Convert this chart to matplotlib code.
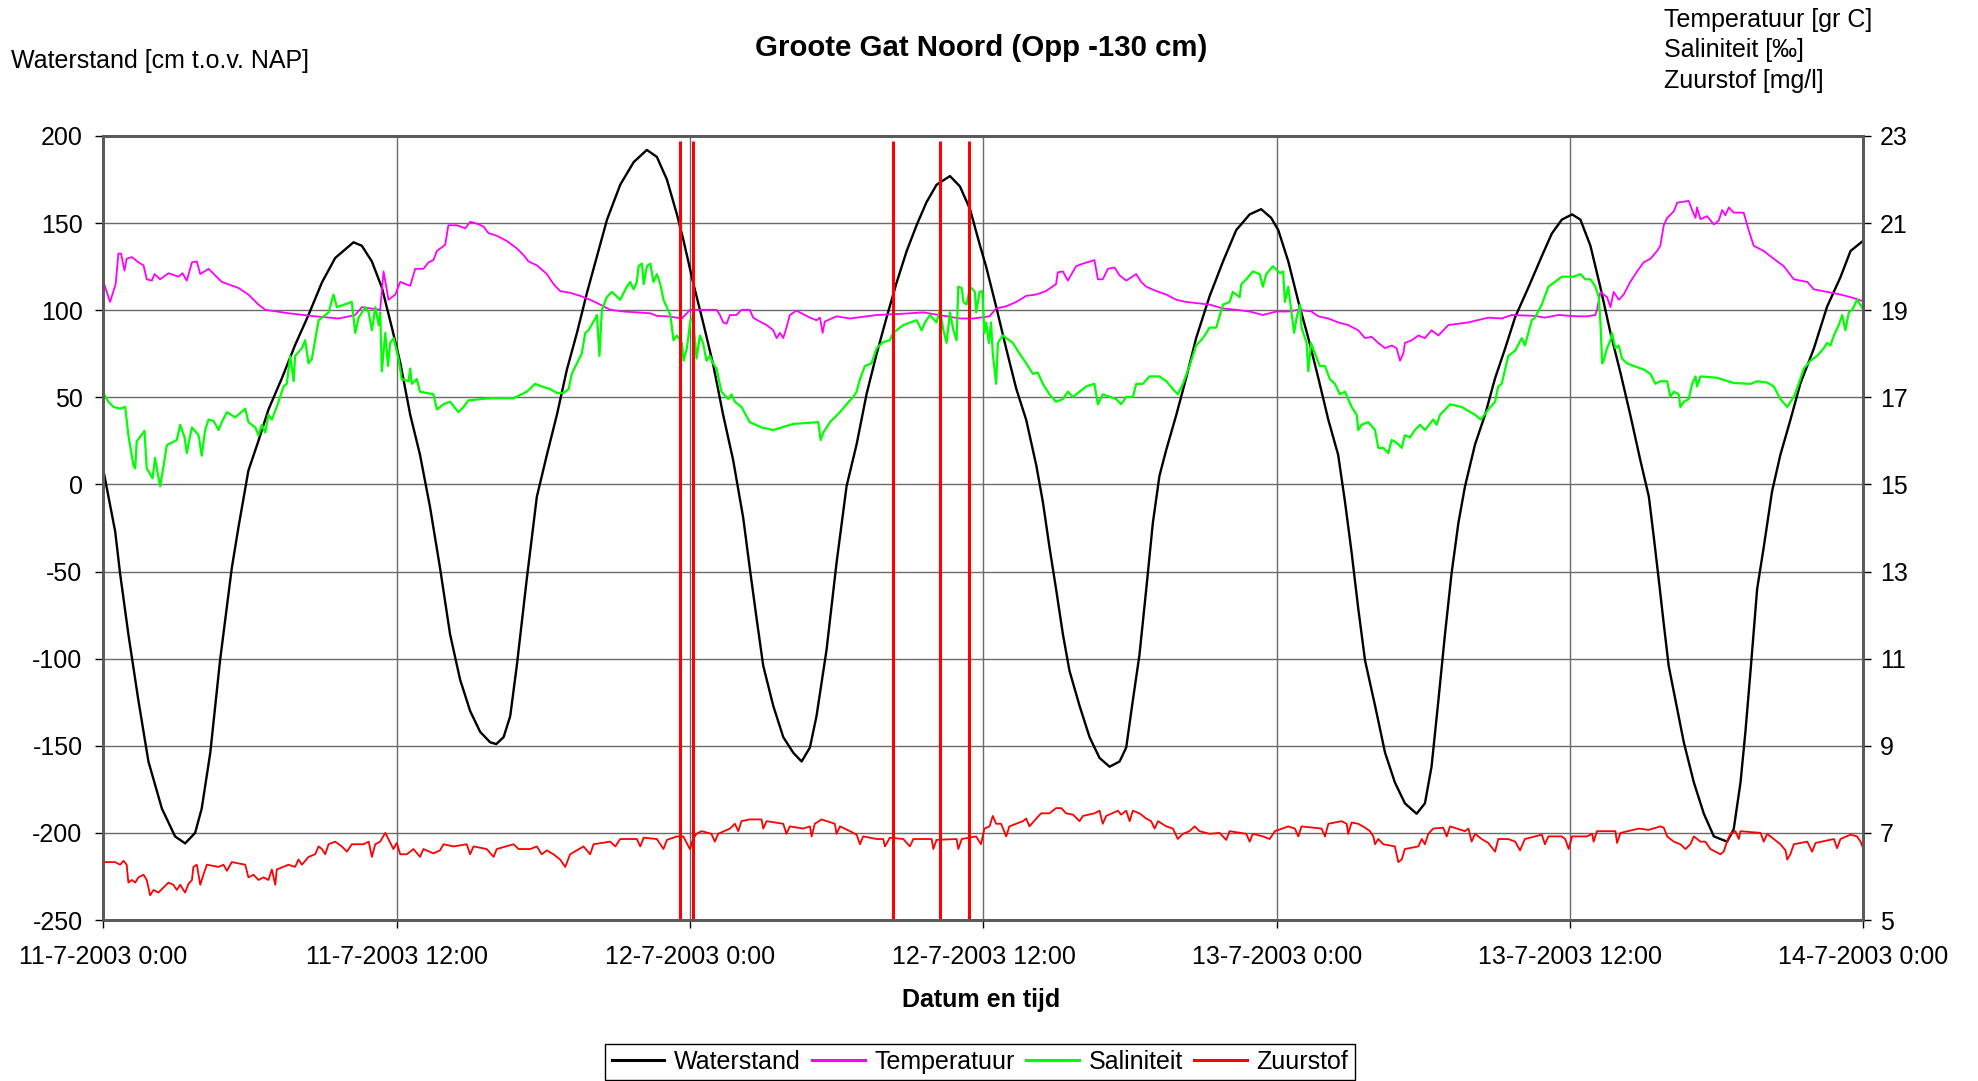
import numpy as np
import matplotlib
matplotlib.use("Agg")
import matplotlib.pyplot as plt

plt.rcParams['font.family'] = ['Liberation Sans', 'DejaVu Sans']
plt.rcParams['axes.unicode_minus'] = False

# (hours since 11-7-2003 0:00, value)
waterstand = [
    (0.0, 8), (0.48, -27), (0.68, -51), (1.02, -86), (1.43, -124), (1.84, -159),
    (2.39, -186), (2.93, -202), (3.34, -206), (3.75, -200), (4.02, -186), (4.37, -154),
    (4.77, -101), (5.25, -48), (5.53, -24), (5.93, 8), (6.34, 25), (6.75, 43),
    (7.30, 61), (7.84, 80), (8.38, 97), (8.94, 116), (9.48, 130), (10.23, 139),
    (10.57, 137), (10.98, 128), (11.39, 113), (11.80, 90), (12.14, 70), (12.55, 40),
    (12.95, 17), (13.36, -13), (13.77, -48), (14.18, -86), (14.59, -112), (15.00, -130),
    (15.41, -142), (15.82, -148), (16.07, -149), (16.37, -145), (16.64, -133), (16.91, -104),
    (17.32, -54), (17.73, -7), (18.14, 17), (18.55, 40), (18.96, 66), (19.37, 87),
    (19.78, 110), (20.19, 131), (20.60, 152), (21.14, 172), (21.69, 185), (22.23, 192),
    (22.64, 188), (23.05, 175), (23.46, 155), (23.73, 140), (24.12, 116), (24.53, 93),
    (24.94, 69), (25.35, 40), (25.76, 14), (26.17, -19), (26.44, -48), (26.72, -77),
    (26.99, -104), (27.40, -127), (27.81, -145), (28.22, -154), (28.56, -159), (28.90, -151),
    (29.17, -133), (29.58, -95), (29.99, -45), (30.40, -1), (30.81, 23), (31.22, 52),
    (31.63, 75), (32.04, 96), (32.45, 116), (32.86, 134), (33.27, 149), (33.67, 162),
    (34.08, 172), (34.63, 177), (35.04, 171), (35.45, 158), (35.86, 137), (36.11, 125),
    (36.52, 102), (36.93, 78), (37.34, 55), (37.75, 37), (38.16, 11), (38.43, -10),
    (38.70, -36), (38.97, -60), (39.25, -86), (39.52, -107), (39.93, -127), (40.34, -145),
    (40.75, -157), (41.16, -162), (41.57, -159), (41.84, -151), (42.11, -124), (42.38, -98),
    (42.66, -60), (42.93, -22), (43.20, 5), (43.48, 20), (43.89, 40), (44.29, 61),
    (44.70, 84), (45.25, 108), (45.80, 128), (46.34, 146), (46.89, 155), (47.36, 158),
    (47.77, 153), (48.06, 146), (48.47, 128), (48.88, 105), (49.29, 84), (49.70, 61),
    (50.11, 37), (50.51, 17), (50.79, -10), (51.06, -39), (51.33, -71), (51.61, -101),
    (52.02, -127), (52.43, -154), (52.83, -171), (53.24, -183), (53.72, -189), (54.06, -183),
    (54.33, -162), (54.61, -124), (54.88, -86), (55.15, -51), (55.43, -22), (55.70, -1),
    (56.11, 23), (56.52, 40), (56.93, 61), (57.34, 78), (57.75, 96), (58.29, 113),
    (58.84, 131), (59.25, 144), (59.66, 152), (60.08, 155), (60.42, 152), (60.83, 137),
    (61.24, 113), (61.65, 87), (62.06, 64), (62.46, 40), (62.87, 14), (63.22, -7),
    (63.42, -30), (63.62, -54), (63.83, -80), (64.03, -104), (64.31, -124), (64.65, -148),
    (65.06, -171), (65.47, -189), (65.88, -202), (66.42, -205), (66.69, -198), (66.97, -171),
    (67.17, -142), (67.38, -107), (67.65, -60), (67.92, -36), (68.26, -4), (68.60, 17),
    (69.01, 37), (69.42, 58), (69.97, 78), (70.51, 102), (71.06, 119), (71.47, 134),
    (72.0, 140),
]

temperatuur = [
    (0.0, 19.65), (0.27, 19.19), (0.50, 19.60), (0.61, 20.30), (0.72, 20.30), (0.86, 19.91),
    (0.95, 20.18), (1.16, 20.22), (1.43, 20.10), (1.64, 20.03), (1.77, 19.71), (1.98, 19.68),
    (2.09, 19.83), (2.32, 19.71), (2.66, 19.85), (3.07, 19.77), (3.23, 19.85), (3.41, 19.68),
    (3.62, 20.10), (3.82, 20.12), (3.96, 19.83), (4.30, 19.95), (4.84, 19.65), (5.53, 19.51),
    (5.93, 19.36), (6.34, 19.13), (6.62, 19.01), (7.57, 18.93), (8.66, 18.86), (9.62, 18.81),
    (10.30, 18.89), (10.57, 19.07), (11.32, 19.01), (11.46, 19.89), (11.66, 19.24), (11.94, 19.36),
    (12.14, 19.65), (12.55, 19.56), (12.75, 19.95), (13.09, 19.95), (13.30, 20.10), (13.50, 20.15),
    (13.64, 20.36), (13.98, 20.50), (14.11, 20.95), (14.46, 20.95), (14.80, 20.88), (15.00, 21.03),
    (15.27, 20.99), (15.55, 20.92), (15.75, 20.77), (16.09, 20.71), (16.50, 20.59), (16.91, 20.42),
    (17.18, 20.27), (17.39, 20.12), (17.73, 20.03), (18.14, 19.83), (18.41, 19.60), (18.68, 19.44),
    (19.09, 19.40), (19.50, 19.33), (19.91, 19.24), (20.32, 19.13), (20.73, 19.01), (21.28, 18.97),
    (21.82, 18.95), (22.37, 18.93), (22.64, 18.87), (23.05, 18.86), (23.46, 18.83), (23.66, 18.81),
    (23.87, 18.93), (23.99, 19.01), (24.53, 19.01), (25.08, 19.01), (25.22, 18.89), (25.35, 18.72),
    (25.49, 18.69), (25.63, 18.89), (25.90, 18.89), (26.10, 19.01), (26.44, 19.01), (26.58, 18.83),
    (26.85, 18.74), (27.13, 18.66), (27.40, 18.54), (27.54, 18.36), (27.67, 18.48), (27.81, 18.36),
    (27.94, 18.60), (28.08, 18.89), (28.35, 18.99), (28.90, 18.83), (29.17, 18.77), (29.31, 18.83),
    (29.42, 18.48), (29.51, 18.74), (29.99, 18.86), (30.54, 18.81), (31.63, 18.89), (32.72, 18.92),
    (33.54, 18.95), (34.49, 18.86), (35.04, 18.81), (35.58, 18.81), (36.25, 18.86), (36.52, 19.04),
    (36.93, 19.09), (37.34, 19.19), (37.75, 19.33), (38.16, 19.36), (38.56, 19.44), (38.97, 19.60),
    (39.04, 19.87), (39.25, 19.89), (39.45, 19.68), (39.79, 20.01), (40.07, 20.07), (40.54, 20.15),
    (40.68, 19.71), (40.88, 19.71), (41.09, 19.95), (41.36, 19.98), (41.57, 19.80), (41.84, 19.68),
    (42.25, 19.83), (42.45, 19.65), (42.66, 19.54), (43.07, 19.44), (43.48, 19.36), (43.89, 19.24),
    (44.29, 19.19), (45.25, 19.13), (45.80, 19.04), (46.34, 19.01), (46.89, 18.97), (47.43, 18.89),
    (47.98, 18.97), (48.47, 18.97), (48.88, 19.01), (49.42, 18.97), (49.70, 18.86), (50.11, 18.81),
    (50.51, 18.72), (50.92, 18.66), (51.33, 18.54), (51.61, 18.36), (51.88, 18.39), (52.15, 18.25),
    (52.43, 18.13), (52.70, 18.19), (52.90, 18.13), (53.04, 17.84), (53.18, 18.01), (53.24, 18.25),
    (53.52, 18.31), (53.79, 18.42), (54.06, 18.36), (54.33, 18.54), (54.61, 18.42), (55.02, 18.66),
    (55.84, 18.72), (56.65, 18.83), (57.20, 18.81), (57.61, 18.89), (58.56, 18.87), (58.97, 18.83),
    (59.52, 18.89), (60.28, 18.86), (60.69, 18.86), (61.03, 18.89), (61.10, 19.01), (61.24, 19.42),
    (61.37, 19.36), (61.51, 19.30), (61.65, 19.07), (61.78, 19.42), (61.99, 19.24), (62.19, 19.36),
    (62.46, 19.65), (62.74, 19.89), (63.01, 20.10), (63.28, 20.18), (63.56, 20.36), (63.69, 20.48),
    (63.83, 20.95), (63.97, 21.12), (64.24, 21.27), (64.38, 21.47), (64.85, 21.51), (64.99, 21.30),
    (65.13, 21.12), (65.19, 21.36), (65.33, 21.09), (65.60, 21.16), (65.88, 20.97), (66.08, 21.06),
    (66.22, 21.30), (66.35, 21.18), (66.49, 21.36), (66.69, 21.24), (67.10, 21.24), (67.31, 20.83),
    (67.51, 20.48), (67.92, 20.36), (68.33, 20.18), (68.74, 20.01), (69.15, 19.71), (69.70, 19.65),
    (69.97, 19.48), (70.51, 19.42), (71.06, 19.36), (71.47, 19.30), (71.81, 19.24), (72.0, 19.20),
]

saliniteit = [
    (0.0, 17.10), (0.20, 16.90), (0.41, 16.78), (0.68, 16.74), (0.89, 16.78), (1.02, 16.13),
    (1.23, 15.43), (1.30, 15.37), (1.36, 15.99), (1.68, 16.23), (1.77, 15.37), (2.01, 15.14),
    (2.11, 15.61), (2.22, 15.25), (2.32, 14.96), (2.46, 15.43), (2.59, 15.90), (3.00, 16.02),
    (3.14, 16.37), (3.32, 16.08), (3.41, 15.72), (3.51, 16.02), (3.62, 16.31), (3.89, 16.13),
    (4.02, 15.66), (4.16, 16.25), (4.30, 16.49), (4.50, 16.46), (4.71, 16.25), (4.84, 16.43),
    (5.05, 16.66), (5.39, 16.54), (5.80, 16.74), (5.93, 16.43), (6.21, 16.31), (6.34, 16.13),
    (6.48, 16.37), (6.62, 16.19), (6.75, 16.60), (6.89, 16.49), (7.09, 16.78), (7.37, 17.25),
    (7.50, 17.31), (7.64, 17.95), (7.78, 17.37), (7.84, 17.95), (8.12, 18.13), (8.25, 18.31),
    (8.39, 17.78), (8.53, 17.89), (8.66, 18.31), (8.80, 18.77), (9.21, 18.95), (9.41, 19.36),
    (9.55, 19.07), (10.16, 19.19), (10.30, 18.48), (10.44, 18.83), (10.71, 19.07), (10.85, 18.95),
    (10.98, 18.54), (11.12, 19.07), (11.26, 18.66), (11.32, 18.95), (11.39, 17.60), (11.53, 18.48),
    (11.64, 17.72), (11.73, 18.25), (11.87, 18.36), (12.07, 17.89), (12.20, 17.42), (12.48, 17.37),
    (12.55, 17.66), (12.61, 17.31), (12.82, 17.42), (12.95, 17.13), (13.50, 17.07), (13.64, 16.72),
    (13.91, 16.84), (14.18, 16.90), (14.52, 16.66), (14.73, 16.78), (14.93, 16.93), (15.82, 16.98),
    (16.78, 16.98), (17.32, 17.13), (17.66, 17.31), (17.93, 17.25), (18.28, 17.19), (18.55, 17.10),
    (18.82, 17.10), (19.03, 17.19), (19.16, 17.54), (19.37, 17.78), (19.57, 18.01), (19.71, 18.48),
    (19.84, 18.54), (20.08, 18.77), (20.19, 18.89), (20.29, 17.95), (20.39, 19.01), (20.59, 19.30),
    (20.80, 19.42), (21.14, 19.24), (21.41, 19.54), (21.55, 19.65), (21.69, 19.48), (21.82, 19.65),
    (21.89, 20.01), (22.03, 20.07), (22.10, 19.60), (22.23, 20.01), (22.37, 20.07), (22.50, 19.65),
    (22.64, 19.83), (22.78, 19.60), (22.91, 19.24), (23.19, 18.89), (23.32, 18.31), (23.46, 18.42),
    (23.66, 18.25), (23.73, 17.84), (23.87, 18.13), (24.01, 18.77), (24.12, 18.83), (24.26, 17.89),
    (24.40, 18.42), (24.53, 18.25), (24.67, 17.84), (24.81, 17.95), (24.94, 17.78), (25.08, 17.66),
    (25.28, 17.13), (25.56, 16.96), (25.69, 17.07), (25.83, 16.90), (26.10, 16.78), (26.44, 16.43),
    (26.92, 16.31), (27.40, 16.25), (28.22, 16.39), (29.24, 16.43), (29.34, 16.02), (29.45, 16.19),
    (29.72, 16.43), (30.13, 16.66), (30.40, 16.84), (30.67, 17.01), (30.81, 17.13), (30.95, 17.42),
    (31.15, 17.72), (31.42, 17.78), (31.63, 18.13), (31.90, 18.27), (32.17, 18.31), (32.31, 18.48),
    (32.72, 18.66), (33.27, 18.77), (33.47, 18.54), (33.61, 18.72), (33.81, 18.89), (34.08, 18.72),
    (34.22, 19.01), (34.36, 18.54), (34.49, 18.25), (34.63, 18.95), (34.77, 18.54), (34.90, 18.31),
    (34.97, 19.54), (35.11, 19.51), (35.18, 19.19), (35.31, 19.13), (35.45, 19.54), (35.65, 19.42),
    (35.70, 18.95), (35.84, 19.42), (35.95, 19.44), (36.04, 18.48), (36.11, 18.72), (36.22, 18.25),
    (36.31, 18.72), (36.38, 18.01), (36.52, 17.31), (36.59, 18.25), (36.79, 18.42), (37.20, 18.25),
    (37.47, 18.01), (37.75, 17.78), (38.02, 17.54), (38.22, 17.57), (38.43, 17.31), (38.70, 17.07),
    (38.97, 16.90), (39.25, 16.96), (39.45, 17.13), (39.66, 17.01), (39.93, 17.13), (40.20, 17.25),
    (40.54, 17.31), (40.68, 16.84), (40.88, 17.07), (41.43, 16.96), (41.63, 16.84), (41.84, 17.01),
    (42.11, 17.01), (42.25, 17.31), (42.52, 17.31), (42.79, 17.48), (43.20, 17.48), (43.48, 17.37),
    (43.75, 17.19), (43.95, 17.07), (44.16, 17.31), (44.43, 17.72), (44.70, 18.19), (44.98, 18.36),
    (45.25, 18.60), (45.52, 18.60), (45.80, 19.13), (46.07, 19.19), (46.20, 19.42), (46.48, 19.30),
    (46.55, 19.60), (46.75, 19.71), (47.02, 19.89), (47.30, 19.83), (47.43, 19.54), (47.57, 19.83),
    (47.84, 20.01), (48.13, 19.85), (48.26, 19.89), (48.33, 19.19), (48.47, 19.54), (48.60, 18.95),
    (48.71, 18.48), (48.81, 18.83), (48.95, 19.13), (49.01, 18.60), (49.22, 18.25), (49.29, 17.60),
    (49.40, 18.25), (49.56, 18.01), (49.76, 17.72), (49.97, 17.72), (50.17, 17.42), (50.38, 17.31),
    (50.58, 17.07), (50.79, 17.13), (51.06, 16.78), (51.27, 16.60), (51.33, 16.25), (51.47, 16.37),
    (51.74, 16.43), (52.02, 16.25), (52.15, 15.84), (52.36, 15.84), (52.56, 15.72), (52.70, 16.02),
    (52.90, 15.96), (53.11, 15.84), (53.24, 16.13), (53.45, 16.08), (53.65, 16.25), (53.86, 16.37),
    (54.06, 16.25), (54.40, 16.49), (54.54, 16.37), (54.68, 16.60), (55.09, 16.84), (55.56, 16.78),
    (56.11, 16.60), (56.35, 16.49), (56.65, 16.72), (56.93, 16.90), (57.06, 17.25), (57.20, 17.31),
    (57.47, 17.95), (57.75, 18.07), (58.02, 18.36), (58.15, 18.19), (58.29, 18.48), (58.43, 18.77),
    (58.56, 18.83), (58.84, 19.13), (59.11, 19.54), (59.38, 19.65), (59.66, 19.77), (60.15, 19.77),
    (60.42, 19.83), (60.62, 19.71), (60.83, 19.71), (61.03, 19.54), (61.17, 19.30), (61.24, 18.72),
    (61.31, 17.78), (61.37, 17.84), (61.51, 18.13), (61.65, 18.31), (61.71, 18.48), (61.85, 18.13),
    (61.99, 18.19), (62.12, 17.89), (62.33, 17.78), (62.60, 17.72), (63.01, 17.64), (63.28, 17.54),
    (63.49, 17.31), (63.69, 17.37), (63.97, 17.37), (64.10, 17.01), (64.24, 17.13), (64.44, 17.07),
    (64.51, 16.78), (64.65, 16.90), (64.85, 16.96), (64.99, 17.31), (65.13, 17.48), (65.19, 17.25),
    (65.33, 17.48), (66.01, 17.45), (66.69, 17.33), (67.38, 17.31), (67.65, 17.37), (68.06, 17.34),
    (68.33, 17.25), (68.60, 16.96), (68.88, 16.78), (69.15, 17.01), (69.35, 17.31), (69.56, 17.66),
    (69.83, 17.84), (70.10, 17.95), (70.38, 18.13), (70.51, 18.25), (70.65, 18.19), (70.79, 18.42),
    (70.99, 18.66), (71.13, 18.89), (71.26, 18.54), (71.40, 18.95), (71.54, 19.01), (71.74, 19.24),
    (72.0, 19.01),
]

zuurstof = [
    (0.0, 6.33), (0.48, 6.33), (0.68, 6.27), (0.82, 6.36), (0.95, 6.27), (1.02, 5.86),
    (1.16, 5.92), (1.30, 5.86), (1.43, 5.98), (1.64, 6.04), (1.77, 5.92), (1.91, 5.57),
    (2.05, 5.69), (2.25, 5.63), (2.46, 5.75), (2.66, 5.86), (2.86, 5.81), (3.00, 5.69),
    (3.14, 5.81), (3.34, 5.63), (3.48, 5.83), (3.62, 5.92), (3.68, 6.22), (3.82, 6.27),
    (3.96, 5.81), (4.09, 6.04), (4.23, 6.27), (4.71, 6.22), (4.91, 6.27), (5.05, 6.13),
    (5.25, 6.33), (5.80, 6.27), (5.93, 5.98), (6.14, 6.04), (6.34, 5.92), (6.55, 5.98),
    (6.75, 5.92), (6.89, 6.16), (7.03, 5.81), (7.09, 6.16), (7.57, 6.27), (7.84, 6.22),
    (7.98, 6.39), (8.12, 6.27), (8.39, 6.45), (8.66, 6.51), (8.80, 6.69), (8.94, 6.63),
    (9.07, 6.51), (9.21, 6.74), (9.48, 6.80), (9.75, 6.69), (9.96, 6.57), (10.16, 6.74),
    (10.64, 6.74), (10.85, 6.80), (10.98, 6.45), (11.12, 6.74), (11.32, 6.80), (11.53, 7.00),
    (11.66, 6.86), (11.86, 6.63), (12.00, 6.77), (12.14, 6.51), (12.41, 6.51), (12.68, 6.63),
    (12.95, 6.45), (13.09, 6.63), (13.50, 6.53), (13.77, 6.60), (13.91, 6.74), (14.32, 6.69),
    (14.86, 6.74), (15.00, 6.51), (15.14, 6.69), (15.68, 6.63), (15.96, 6.45), (16.09, 6.63),
    (16.78, 6.74), (16.98, 6.63), (17.46, 6.63), (17.73, 6.69), (17.93, 6.51), (18.14, 6.60),
    (18.41, 6.51), (18.68, 6.39), (18.89, 6.22), (19.09, 6.51), (19.64, 6.69), (19.91, 6.51),
    (20.05, 6.74), (20.73, 6.80), (20.94, 6.69), (21.14, 6.86), (21.82, 6.86), (21.96, 6.69),
    (22.10, 6.89), (22.64, 6.86), (22.91, 6.63), (23.05, 6.84), (23.46, 6.92), (23.72, 6.92),
    (23.99, 6.63), (24.12, 6.86), (24.26, 6.98), (24.47, 7.04), (24.87, 6.98), (25.01, 6.80),
    (25.15, 6.98), (25.63, 7.10), (25.83, 7.21), (25.97, 7.04), (26.10, 7.27), (26.44, 7.31),
    (26.92, 7.31), (26.99, 7.10), (27.13, 7.27), (27.81, 7.21), (27.94, 6.98), (28.08, 7.15),
    (28.63, 7.10), (28.90, 7.15), (28.97, 6.92), (29.10, 7.21), (29.38, 7.31), (29.92, 7.21),
    (29.99, 6.98), (30.13, 7.15), (30.54, 7.04), (30.81, 6.96), (30.95, 6.74), (31.08, 6.92),
    (31.63, 6.86), (31.90, 6.86), (31.97, 6.69), (32.17, 6.89), (32.72, 6.86), (32.99, 6.69),
    (33.13, 6.86), (33.88, 6.86), (33.95, 6.63), (34.08, 6.84), (34.90, 6.86), (34.97, 6.63),
    (35.11, 6.86), (35.70, 6.92), (35.90, 6.74), (36.04, 7.10), (36.25, 7.15), (36.38, 7.39),
    (36.52, 7.21), (36.72, 7.21), (36.93, 6.92), (37.06, 7.15), (37.61, 7.27), (37.75, 7.33),
    (37.88, 7.15), (38.16, 7.33), (38.36, 7.45), (38.70, 7.45), (38.97, 7.57), (39.18, 7.57),
    (39.38, 7.45), (39.66, 7.42), (39.93, 7.27), (40.07, 7.39), (40.54, 7.45), (40.75, 7.51),
    (40.88, 7.21), (41.02, 7.39), (41.50, 7.51), (41.63, 7.42), (41.84, 7.51), (41.98, 7.27),
    (42.11, 7.51), (42.38, 7.45), (42.66, 7.33), (42.86, 7.27), (43.00, 7.10), (43.14, 7.27),
    (43.48, 7.15), (43.75, 7.10), (43.95, 6.86), (44.16, 6.98), (44.43, 7.04), (44.64, 7.15),
    (44.84, 7.04), (45.25, 6.98), (45.66, 7.00), (45.93, 6.84), (46.07, 7.04), (46.75, 6.98),
    (46.89, 6.80), (47.02, 6.98), (47.43, 6.92), (47.71, 6.86), (47.92, 7.04), (48.47, 7.15),
    (48.74, 7.10), (48.88, 6.92), (49.01, 7.15), (49.83, 7.10), (49.97, 6.92), (50.11, 7.21),
    (50.65, 7.27), (50.86, 7.21), (50.92, 6.98), (51.06, 7.24), (51.33, 7.21), (51.61, 7.12),
    (51.81, 7.04), (51.95, 6.92), (52.02, 6.74), (52.15, 6.86), (52.36, 6.74), (52.83, 6.69),
    (52.97, 6.33), (53.11, 6.39), (53.24, 6.63), (53.79, 6.69), (53.93, 6.86), (54.06, 6.74),
    (54.20, 6.98), (54.40, 7.10), (54.81, 7.12), (54.95, 6.92), (55.09, 7.15), (55.70, 7.04),
    (55.84, 7.10), (55.97, 6.80), (56.11, 6.98), (56.38, 6.86), (56.65, 6.77), (56.93, 6.57),
    (57.06, 6.86), (57.47, 6.86), (57.75, 6.80), (57.95, 6.60), (58.15, 6.86), (58.84, 6.96),
    (58.97, 6.74), (59.11, 6.92), (59.66, 6.92), (59.80, 6.86), (59.94, 6.63), (60.08, 6.92),
    (60.69, 6.92), (60.90, 6.98), (60.96, 6.80), (61.10, 7.04), (61.85, 7.04), (61.92, 6.77),
    (62.06, 7.00), (62.81, 7.10), (63.22, 7.07), (63.69, 7.15), (63.83, 7.12), (63.97, 6.92),
    (64.24, 6.80), (64.51, 6.74), (64.72, 6.63), (64.92, 6.74), (65.06, 6.92), (65.33, 6.80),
    (65.53, 6.80), (65.74, 6.63), (65.94, 6.57), (66.15, 6.51), (66.28, 6.57), (66.42, 6.80),
    (66.56, 6.98), (66.76, 7.04), (66.90, 6.86), (66.97, 7.04), (67.79, 7.00), (67.92, 6.80),
    (68.06, 6.98), (68.33, 6.86), (68.60, 6.74), (68.81, 6.60), (68.88, 6.39), (69.01, 6.51),
    (69.15, 6.74), (69.70, 6.80), (69.90, 6.57), (70.04, 6.77), (70.79, 6.86), (70.92, 6.65),
    (71.06, 6.86), (71.47, 6.96), (71.74, 6.92), (71.88, 6.80), (72.0, 6.63),
]

# oxygen readings that shoot off the scale
zuurstof_spikes = [23.57, 24.11, 32.28, 34.21, 35.39]

x_ticks = [0, 12, 24, 36, 48, 60, 72]
x_labels = ["11-7-2003 0:00", "11-7-2003 12:00", "12-7-2003 0:00", "12-7-2003 12:00",
            "13-7-2003 0:00", "13-7-2003 12:00", "14-7-2003 0:00"]
left_ticks = np.arange(-250, 201, 50)
right_ticks = np.arange(5, 24, 2)
right_units = ["Temperatuur [gr C]", "Saliniteit [\u2030]", "Zuurstof [mg/l]"]

FS = 18

fig = plt.figure(figsize=(19.78, 10.81), dpi=100)
ax = fig.add_axes([0.0523, 0.1489, 0.8898, 0.7253])
ax2 = ax.twinx()

t, v = zip(*waterstand)
l1, = ax.plot(t, v, color='black', lw=1.7, solid_joinstyle='round', label='Waterstand')
t, v = zip(*temperatuur)
l2, = ax2.plot(t, v, color='#ff00ff', lw=1.3, label='Temperatuur')
t, v = zip(*saliniteit)
l3, = ax2.plot(t, v, color='#00ff00', lw=1.6, label='Saliniteit')
t, v = zip(*zuurstof)
l4, = ax2.plot(t, v, color='#ff0000', lw=1.3, label='Zuurstof')
ax2.vlines(zuurstof_spikes, 5.0, 22.88, color='#ff0000', lw=2.2)

ax.set_xlim(0, 72)
ax.set_ylim(-250, 200)
ax2.set_ylim(5, 23)
ax.set_xticks(x_ticks)
ax.set_xticklabels(x_labels)
ax.set_yticks(left_ticks)
ax.set_yticklabels([str(k) for k in left_ticks])
ax2.set_yticks(right_ticks)

ax.set_axisbelow(True)
ax.grid(True, color='#6a6a6a', lw=1.0)
ax.tick_params(axis='both', direction='out', length=6, width=1, labelsize=FS)
ax.tick_params(axis='y', pad=9)
ax.tick_params(axis='x', pad=12)
ax2.tick_params(axis='y', direction='out', length=6, width=1, labelsize=FS, pad=6)
for a in (ax, ax2):
    for s in a.spines.values():
        s.set_color('#5a5a5a')
        s.set_linewidth(2)

fig.text(0.0056, 0.9440, 'Waterstand [cm t.o.v. NAP]', fontsize=FS, ha='left', va='center')
fig.text(0.496, 0.9555, 'Groote Gat Noord (Opp -130 cm)', fontsize=21.2,
         fontweight='bold', ha='center', va='center')
for i, txt in enumerate(right_units):
    fig.text(0.8413, 0.9813 - i * 0.0279, txt, fontsize=FS, ha='left', va='center')
fig.text(0.496, 0.0745, 'Datum en tijd', fontsize=FS, fontweight='bold',
         ha='center', va='center')

leg = fig.legend([l1, l2, l3, l4], ['Waterstand', 'Temperatuur', 'Saliniteit', 'Zuurstof'],
                 loc='center', bbox_to_anchor=(0.4955, 0.0175), ncol=4, fontsize=FS,
                 frameon=True, fancybox=False, edgecolor='black', framealpha=1,
                 handlelength=2.1, handletextpad=0.4, columnspacing=0.45,
                 borderpad=0.25, borderaxespad=0)
leg.get_frame().set_linewidth(1.0)
for h in leg.get_lines():
    h.set_linewidth(2.2)

fig.savefig('out.png', dpi=100)
